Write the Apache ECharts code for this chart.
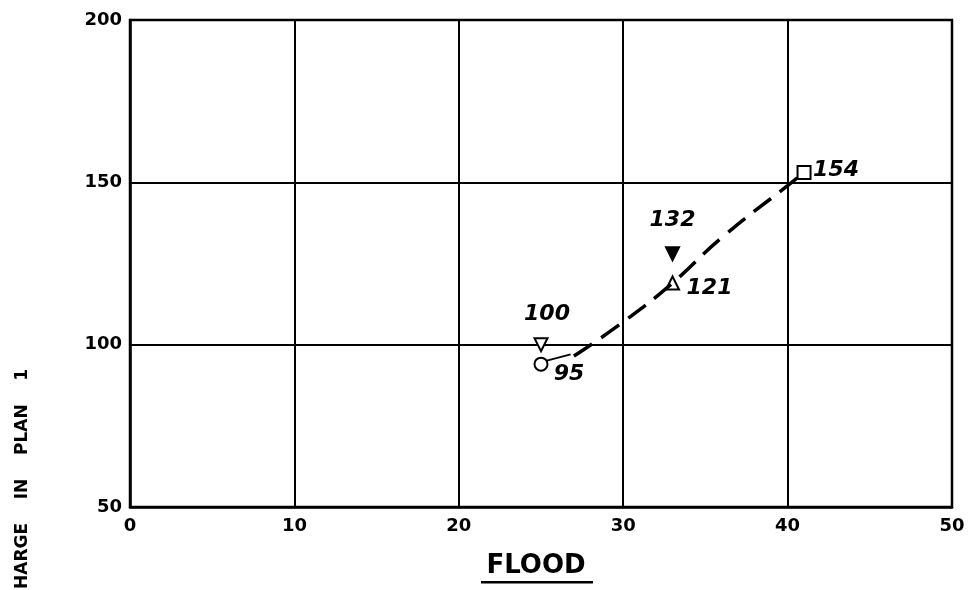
<!DOCTYPE html>
<html><head><meta charset="utf-8">
<script src="https://cdn.jsdelivr.net/npm/echarts@6/dist/echarts.min.js"></script>
<style>html,body{margin:0;padding:0;background:#fff}#c{width:968px;height:590px}</style>
</head><body><div id="c"></div>
<script>
// Data
const xTicks = [0, 10, 20, 30, 40, 50];
const yTicks = [50, 100, 150, 200];
const pointX = [25, 25, 33, 33, 41];
const pointY = [100, 94, 119, 128, 153];
const pointLabels = ['100', '95', '121', '132', '154'];
const pointSymbols = ['emptyTriangle', 'emptyCircle', 'emptyTriangle', 'triangle', 'emptyRect'];
const pointRotate = [180, 0, 0, 180, 0];
const labelOffsets = [[6, -30], [28, 10], [37, 5], [0, -33], [32, -2]];
const curveX = [27, 30, 33, 36, 40, 41];
const curveY = [96.5, 107, 119, 133, 149, 153];
const leaderX = [25.3, 26.8];
const leaderY = [95, 97];

const chart = echarts.init(document.getElementById('c'));
const font = '"DejaVu Sans", sans-serif';
const pts = pointX.map((x, i) => ({
  value: [x, pointY[i]],
  symbol: pointSymbols[i],
  symbolRotate: pointRotate[i],
  label: {show: true, formatter: pointLabels[i], position: 'inside', offset: labelOffsets[i]}
}));
chart.setOption({
  animation: false,
  grid: {left: 130, right: 16, top: 20, bottom: 83, show: true, borderColor: '#000', borderWidth: 2.5},
  xAxis: {
    type: 'value', min: 0, max: 50, interval: 10,
    axisLine: {lineStyle: {color: '#000', width: 2.5}},
    axisTick: {show: false},
    axisLabel: {color: '#000', fontFamily: font, fontWeight: 'bold', fontSize: 18, margin: 10,
      formatter: v => xTicks.includes(v) ? String(v) : ''},
    splitLine: {lineStyle: {color: '#000', width: 2}}
  },
  yAxis: {
    type: 'value', min: 50, max: 200, interval: 50,
    axisLine: {lineStyle: {color: '#000', width: 2.5}},
    axisTick: {show: false},
    axisLabel: {color: '#000', fontFamily: font, fontWeight: 'bold', fontSize: 18, margin: 8,
      formatter: v => yTicks.includes(v) ? String(v) : ''},
    splitLine: {lineStyle: {color: '#000', width: 2}}
  },
  graphic: [
    {type: 'text', x: 536, y: 553, style: {text: 'FLOOD', font: 'bold 26px ' + font, fill: '#000', textAlign: 'center'}},
    {type: 'rect', shape: {x: 481, y: 581, width: 112, height: 2.5}, style: {fill: '#000'}},
    {type: 'text', x: 14, y: 589, rotation: Math.PI / 2,
      style: {text: 'HARGE    IN    PLAN    1', font: 'bold 17px ' + font, fill: '#000', textVerticalAlign: 'top'}}
  ],
  series: [
    {type: 'line', data: curveX.map((x, i) => [x, curveY[i]]), smooth: true, symbol: 'none',
      lineStyle: {color: '#000', width: 3.5, type: [22, 11]}},
    {type: 'line', data: leaderX.map((x, i) => [x, leaderY[i]]), symbol: 'none',
      lineStyle: {color: '#000', width: 2}},
    {type: 'scatter', data: pts, symbolSize: 13,
      itemStyle: {color: '#000', borderColor: '#000', borderWidth: 2, opacity: 1},
      label: {color: '#000', fontFamily: font, fontStyle: 'italic', fontWeight: 'bold', fontSize: 22}}
  ]
});
</script></body></html>
